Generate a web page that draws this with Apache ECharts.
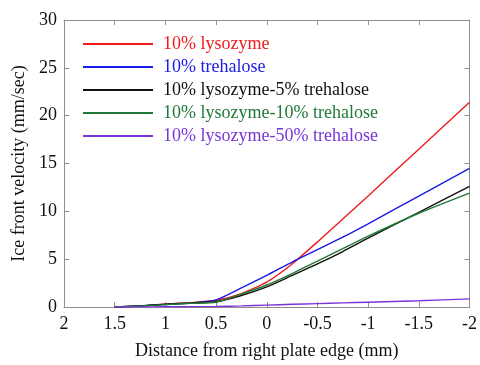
<!DOCTYPE html>
<html><head><meta charset="utf-8">
<script src="https://cdn.jsdelivr.net/npm/echarts@6/dist/echarts.min.js"></script>
<style>html,body{margin:0;padding:0;background:#fff}#c{width:480px;height:365px}</style>
</head><body><div id="c"></div>
<script>
const xValues = [1.5,1.25,1,0.75,0.5,0.25,0,-0.25,-0.5,-0.75,-1,-1.5,-2];
const lysozyme10 = [0,0.1,0.3,0.45,0.7,1.4,2.6,4.5,6.8,9.2,11.6,16.5,21.4];
const trehalose10 = [0,0.12,0.25,0.4,0.75,2.0,3.3,4.7,6.0,7.3,8.7,11.6,14.5];
const lys10tre5 = [0,0.12,0.3,0.42,0.55,1.2,2.1,3.3,4.5,5.8,7.2,9.9,12.6];
const lys10tre10 = [0,0.1,0.25,0.38,0.5,1.35,2.3,3.5,4.8,6.1,7.4,9.8,11.9];
const lys10tre50 = [0,0.01,0.02,0.03,0.05,0.12,0.2,0.28,0.35,0.43,0.5,0.65,0.85];
const seriesNames = ['10% lysozyme','10% trehalose','10% lysozyme-5% trehalose','10% lysozyme-10% trehalose','10% lysozyme-50% trehalose'];
const seriesColors = ['#ee1c1c','#1a1ae6','#111111','#1e7a36','#7a35d8'];
const seriesData = [lysozyme10,trehalose10,lys10tre5,lys10tre10,lys10tre50];
const xTitle = 'Distance from right plate edge (mm)';
const yTitle = 'Ice front velocity (mm/sec)';

const font = "'Liberation Serif','Times New Roman',serif";
const frame = '#8f8f8f';
const chart = echarts.init(document.getElementById('c'));
function axisCommon(show){
  return {
    axisLine:{show:true,onZero:false,lineStyle:{color:frame,width:1}},
    axisTick:{show:true,inside:true,length:5,lineStyle:{color:frame}},
    splitLine:{show:false},
    axisLabel:{show:show,color:'#111',fontFamily:font,fontSize:18}
  };
}
chart.setOption({
  animation:false,
  grid:{left:64,right:7,top:20,bottom:55},
  legend:{
    orient:'vertical',left:77,top:30,itemWidth:70,itemHeight:14,itemGap:5,
    itemStyle:{opacity:0},
    textStyle:{fontFamily:font,fontSize:18,lineHeight:18,padding:[0,0,0,5]},
    data:seriesNames.map((n,i)=>({name:n,textStyle:{color:seriesColors[i]}}))
  },
  xAxis:[
    Object.assign({type:'value',min:-2,max:2,interval:0.5,inverse:true,position:'bottom',
      name:xTitle,nameLocation:'middle',nameGap:35,
      nameTextStyle:{fontFamily:font,fontSize:18,color:'#111'}},axisCommon(true),
      {axisLabel:{show:true,color:'#111',fontFamily:font,fontSize:18,margin:8}}),
    Object.assign({type:'value',min:-2,max:2,interval:0.5,inverse:true,position:'top'},axisCommon(false))
  ],
  yAxis:[
    Object.assign({type:'value',min:0,max:30,interval:5,position:'left',
      name:yTitle,nameLocation:'middle',nameGap:36,
      nameTextStyle:{fontFamily:font,fontSize:18,color:'#111'}},axisCommon(true),
      {axisLabel:{show:true,color:'#111',fontFamily:font,fontSize:18,margin:7}}),
    Object.assign({type:'value',min:0,max:30,interval:5,position:'right'},axisCommon(false))
  ],
  series:seriesNames.map((n,i)=>({
    name:n,type:'line',symbol:'none',smooth:0.2,
    lineStyle:{color:seriesColors[i],width:1.4},itemStyle:{color:seriesColors[i]},
    data:xValues.map((x,j)=>[x,seriesData[i][j]])
  }))
});
</script></body></html>
